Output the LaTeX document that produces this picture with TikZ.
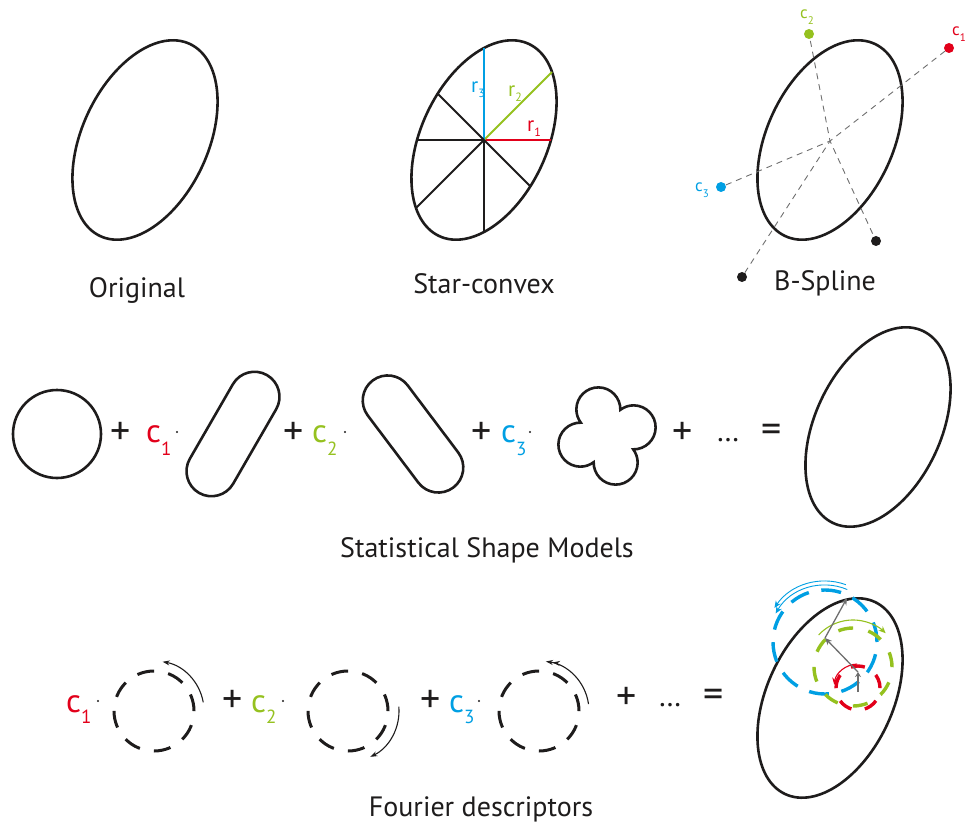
\documentclass[tikz,border=0pt]{standalone}
\usepackage{fontspec}
\setmainfont{PT Sans}
\usetikzlibrary{shapes.geometric,shapes.misc,arrows.meta}
\definecolor{cred}{RGB}{226,0,26}
\definecolor{cgreen}{RGB}{149,193,31}
\definecolor{cblue}{RGB}{0,159,227}
\definecolor{cgray}{RGB}{110,110,110}
\definecolor{ink}{RGB}{30,28,28}
\tikzset{
 outline/.style={draw=ink, line width=2.6pt},
 egg/.style={outline, ellipse, inner sep=0pt, minimum width=212pt, minimum height=126pt, rotate=65},
 caption/.style={font=\fontsize{28}{30}\selectfont, anchor=base, text=ink, inner sep=0pt},
 op/.style={font=\fontsize{40}{40}\selectfont, text=ink, inner sep=0pt},
 dots/.style={font=\fontsize{30}{30}\selectfont, text=ink, inner sep=0pt},
 coef/.style={font=\fontsize{33}{33}\selectfont, anchor=base west, inner sep=0pt},
 small/.style={font=\fontsize{19}{19}\selectfont, anchor=base west, inner sep=0pt},
 cdot/.style={circle, fill=ink, inner sep=0pt, minimum size=2.4pt},
 ray/.style={line width=2pt},
 ctrl/.style={circle, inner sep=0pt, minimum size=10pt},
 guide/.style={draw=cgray, line width=0.9pt, dash pattern=on 6pt off 5pt, dash phase=3pt},
 stadium/.style={outline, rounded rectangle, inner sep=0pt, minimum height=50pt},
 fdash/.style={draw=ink, line width=3pt, circle, inner sep=0pt, minimum size=80pt, dash pattern=on 17pt off 14.4pt},
 farrow/.style={draw=ink, line width=1.1pt, -{Stealth[length=7pt,width=5pt]}},
 cdash/.style={line width=3.4pt, circle, inner sep=0pt},
 phasor/.style={draw=cgray, line width=1.3pt, -{Stealth[length=7pt,width=6pt]}},
}
% letter, lowering, subscript size, subscript
\newcommand\cf[4]{#1\raisebox{#2}{\fontsize{#3}{#3}\selectfont #4}}
\begin{document}
\begin{tikzpicture}[x=1pt,y=-1pt]
\useasboundingbox (0,0) rectangle (968,826);
% ---------- top row ----------
\node[egg] (orig) at (145,140) {};
\node[caption] (t1) at (137,297) {Original};

\node[egg] (sc) at (484,140) {};
\draw[ray, cred] (sc.center) -- ++(0:67pt) coordinate (q1);
\draw[ray, cgreen] (sc.center) -- ++(45:96pt) coordinate (q2);
\draw[ray, cblue] (sc.center) -- ++(90:92pt) coordinate (q3);
\draw[ray, ink] (sc.center) -- ++(135:65.5pt) coordinate (q4);
\draw[ray, ink] (sc.center) -- ++(180:67pt) coordinate (q5);
\draw[ray, ink] (sc.center) -- ++(225:96pt) coordinate (q6);
\draw[ray, ink] (sc.center) -- ++(270:92pt) coordinate (q7);
\draw[ray, ink] (sc.center) -- ++(315:65.5pt) coordinate (q8);
\node[small, text=cblue, font=\fontsize{21}{21}\selectfont] (r3) at (471,93) {\cf{r}{-5pt}{12}{3}};
\node[small, text=cgreen, font=\fontsize{21}{21}\selectfont] (r2) at (508,97) {\cf{r}{-5pt}{12}{2}};
\node[small, text=cred, font=\fontsize{21}{21}\selectfont] (r1) at (527,132) {\cf{r}{-5pt}{12}{1}};
\node[caption] (t2) at (484,293) {Star-convex};

\node[egg] (bs) at (830,140) {};
\coordinate (bsc) at (830,141);
\node[ctrl, fill=cgreen] (k2) at (809,34) {};
\node[ctrl, fill=cred] (k1) at (949,48) {};
\node[ctrl, fill=cblue] (k3) at (721,187) {};
\node[ctrl, fill=ink] (k4) at (876,241) {};
\node[ctrl, fill=ink] (k5) at (742,277) {};
\foreach \k in {k1,k2,k3,k4,k5} \draw[guide] (bsc) -- (\k);
\node[small, text=cgreen, font=\fontsize{17}{17}\selectfont] (l2) at (800,19) {\cf{c}{-6pt}{11}{2}};
\node[small, text=cred, font=\fontsize{17}{17}\selectfont] (l1) at (952,36) {\cf{c}{-6pt}{11}{1}};
\node[small, text=cblue, font=\fontsize{17}{17}\selectfont] (l3) at (695,192) {\cf{c}{-6pt}{11}{3}};
\node[caption] (t3) at (825,290) {B-Spline};

% ---------- middle row ----------
\node[outline, circle, inner sep=0pt, minimum size=88pt] (m0) at (57,434) {};
\node[op] (p1) at (121,433) {+};
\node[coef, text=cred] (mc1) at (146,442) {\cf{c}{-13pt}{19}{1}};
\node[cdot] (d1) at (177,432) {};
\node[stadium, minimum width=136pt, rotate=60] (s1) at (233,434) {};
\node[op] (p2) at (294,433) {+};
\node[coef, text=cgreen] (mc2) at (312,442) {\cf{c}{-13pt}{19}{2}};
\node[cdot] (d2) at (345,432) {};
\node[stadium, minimum width=134pt, rotate=-53] (s2) at (413,434) {};
\node[op] (p3) at (482,433) {+};
\node[coef, text=cblue] (mc3) at (501,442) {\cf{c}{-13pt}{19}{3}};
\node[cdot] (d3) at (530,432) {};
\coordinate (cl) at (607,436);
\draw[outline] ([shift={(-27:29.4pt)}]cl)
  arc[start angle=-91.1, end angle=127.1, radius=22pt]
  arc[start angle=-1.1, end angle=217.1, radius=22pt]
  arc[start angle=88.9, end angle=307.1, radius=22pt]
  arc[start angle=178.9, end angle=397.1, radius=22pt] -- cycle;
\node[op] (p4) at (683,433) {+};
\node[dots] (el1) at (728,440) {…};
\node[op] (eq1) at (772,433) {=};
\node[egg] (res) at (878,427) {};
\node[caption] (t4) at (487,557) {Statistical Shape Models};

% ---------- bottom row ----------
\node[coef, text=cred] (fc1) at (66,712) {\cf{c}{-11pt}{19}{1}};
\node[cdot] (fd1) at (98,701) {};
\node[fdash] (f1) at (154,711) {};
\draw[farrow] ([shift={(10:50pt)}]f1.center) arc[start angle=10, end angle=80, radius=50pt];
\node[op] (fp1) at (233,701) {+};
\node[coef, text=cgreen] (fc2) at (251,712) {\cf{c}{-11pt}{19}{2}};
\node[cdot] (fd2) at (283,701) {};
\node[fdash] (f2) at (348,711) {};
\draw[farrow] ([shift={(5:51pt)}]f2.center) arc[start angle=5, end angle=-64, radius=51pt];
\node[op] (fp2) at (431,701) {+};
\node[coef, text=cblue] (fc3) at (449,712) {\cf{c}{-11pt}{19}{3}};
\node[cdot] (fd3) at (479,701) {};
\node[fdash] (f3) at (539,711) {};
\draw[draw=ink, line width=1.1pt, -{Stealth[length=7pt,width=5pt] Stealth[length=7pt,width=5pt]}] ([shift={(8:50pt)}]f3.center) arc[start angle=8, end angle=82, radius=50pt];
\node[op] (fp3) at (627,698) {+};
\node[dots] (el2) at (670,705) {…};
\node[op] (eq2) at (714,698) {=};

\node[egg] (fe) at (830,698) {};
\node[cdash, draw=cblue, minimum size=104pt, dash pattern=on 20pt off 12.7pt] (bc) at (825,642) {};
\node[cdash, draw=cgreen, minimum size=78pt, dash pattern=on 15pt off 15.6pt] (gc) at (853,667) {};
\node[cdash, draw=cred, minimum size=44pt, dash pattern=on 14pt off 13.6pt] (rc) at (858,688) {};
\draw[cblue, line width=0.9pt, -{Stealth[length=7pt,width=6pt]}] ([shift={(67:57pt)}]bc.center) arc[start angle=67, end angle=150, radius=57pt];
\draw[cblue, line width=0.9pt, -{Stealth[length=7pt,width=6pt]}] ([shift={(70:61pt)}]bc.center) arc[start angle=70, end angle=146, radius=61pt];
\draw[cgreen, line width=1.1pt, -{Stealth[length=7pt,width=6pt]}] ([shift={(137:47pt)}]gc.center) arc[start angle=137, end angle=46, radius=47pt];
\draw[cred, line width=1.1pt, -{Stealth[length=7pt,width=6pt]}] ([shift={(92:24pt)}]rc.center) arc[start angle=92, end angle=172, radius=24pt];
\coordinate (v0) at (858,692);
\coordinate (v1) at (858,672);
\coordinate (v2) at (825,638);
\coordinate (v3) at (847,598);
\draw[cgray, line width=2.6pt, -{Stealth[length=5pt,width=6pt]}] (v0) -- (v1);
\draw[phasor] (v1) -- (v2);
\draw[phasor] (v2) -- (v3);
\node[caption] (t5) at (481,816) {Fourier descriptors};
\end{tikzpicture}
\end{document}
